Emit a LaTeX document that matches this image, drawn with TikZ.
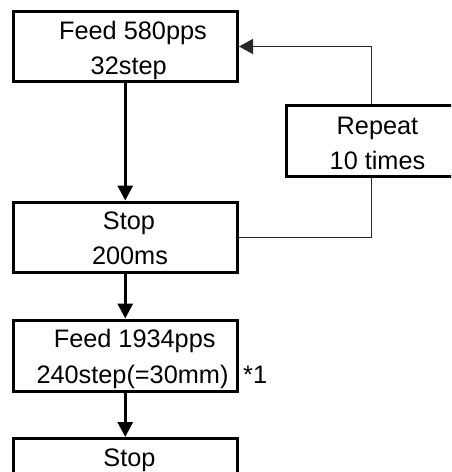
\documentclass[tikz,border=0pt]{standalone}
\usepackage{fontspec}
\setmainfont{Liberation Sans}
\usetikzlibrary{arrows.meta}
\begin{document}
\begin{tikzpicture}[x=1pt,y=-1pt,
  box/.style={draw=black,line width=3pt,rectangle,inner sep=0pt,minimum width=224.5pt},
  lbl/.style={anchor=base,inner sep=0pt,font=\fontsize{25.3pt}{28pt}\selectfont},
  flow/.style={line width=3pt,-{Triangle[length=15pt,width=15pt]}},
  back/.style={line width=1.3pt,draw=black!85}]
\useasboundingbox (0,0) rectangle (451,472);
\clip (0,0) rectangle (451,472);
\fill[white] (0,0) rectangle (451,472);
% boxes
\node[box,minimum height=70pt] (b1) at (125.25,46.5) {};
\node[box,minimum height=70.5pt] (b2) at (125.25,237.25) {};
\node[box,minimum height=71.5pt] (b3) at (125.25,355.75) {};
\node[box,minimum height=71pt] (b4) at (125.25,474) {};
\node[box,minimum width=170pt,minimum height=71pt] (rep) at (371.5,141) {};
% texts
\node[lbl] (t1a) at (133,39) {Feed 580pps};
\node[lbl] (t1b) at (128.7,74) {32step};
\node[lbl] (t2a) at (129,229) {Stop};
\node[lbl] (t2b) at (130,264) {200ms};
\node[lbl] (t3a) at (134.7,347) {Feed 1934pps};
\node[lbl] (t3b) at (132.5,383) {240step(=30mm)};
\node[lbl] (t4a) at (129.5,466) {Stop};
\node[lbl] (r1) at (377.5,134) {Repeat};
\node[lbl] (r2) at (377.5,169.5) {10 times};
\node[lbl,anchor=base west] (note) at (243,383) {*1};
% connectors
\draw[flow] (b1.south) -- (b2.north);
\draw[flow] (b2.south) -- (b3.north);
\draw[flow] (b3.south) -- (b4.north);
\draw[back] (b2.east) -| (rep.south);
\draw[back,-{Triangle[length=14pt,width=15pt]}] (rep.north) |- (b1.east);
\end{tikzpicture}
\end{document}
